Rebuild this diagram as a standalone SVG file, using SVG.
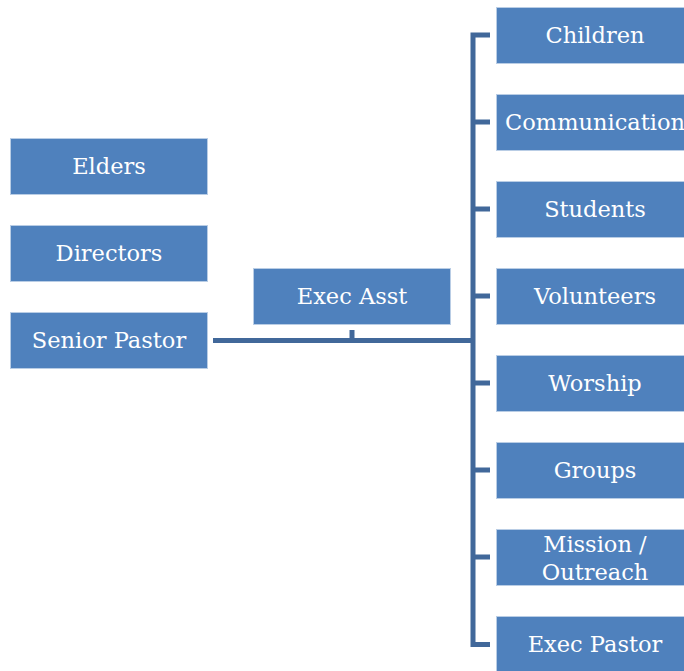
<svg xmlns="http://www.w3.org/2000/svg" width="684" height="671" viewBox="0 0 684 671">
<style>
.box{fill:#4F81BD;stroke:#B9CDE5;stroke-width:1}
.t{fill:#FFFFFF;font-family:"DejaVu Serif","Liberation Serif",serif;font-size:22.5px;text-anchor:middle;dominant-baseline:central}
.ln{stroke:#41689A;stroke-width:5;fill:none}
</style>
<rect width="684" height="671" fill="#FFFFFF"/>
<g id="connectors">
<path class="ln" d="M213,340.5 H473"/>
<path class="ln" d="M352,330 V340"/>
<path class="ln" d="M490,35 H473 V644.5 H490"/>
<path class="ln" d="M473,122 H490 M473,209 H490 M473,296 H490 M473,383 H490 M473,470 H490 M473,557 H490"/>
</g>
<g id="elders"><rect class="box" x="10.5" y="138.5" width="197" height="56"/><text class="t" x="109" y="166">Elders</text></g>
<g id="directors"><rect class="box" x="10.5" y="225.5" width="197" height="56"/><text class="t" x="109" y="253">Directors</text></g>
<g id="senior-pastor"><rect class="box" x="10.5" y="312.5" width="197" height="56"/><text class="t" x="109" y="340">Senior Pastor</text></g>
<g id="exec-asst"><rect class="box" x="253.5" y="268.5" width="197" height="56"/><text class="t" x="352" y="296">Exec Asst</text></g>
<g id="children"><rect class="box" x="496.5" y="7.5" width="198" height="56"/><text class="t" x="595" y="35">Children</text></g>
<g id="communication"><rect class="box" x="496.5" y="94.5" width="198" height="56"/><text class="t" x="595" y="122">Communication</text></g>
<g id="students"><rect class="box" x="496.5" y="181.5" width="198" height="56"/><text class="t" x="595" y="209">Students</text></g>
<g id="volunteers"><rect class="box" x="496.5" y="268.5" width="198" height="56"/><text class="t" x="595" y="296">Volunteers</text></g>
<g id="worship"><rect class="box" x="496.5" y="355.5" width="198" height="56"/><text class="t" x="595" y="383">Worship</text></g>
<g id="groups"><rect class="box" x="496.5" y="442.5" width="198" height="56"/><text class="t" x="595" y="470">Groups</text></g>
<g id="mission"><rect class="box" x="496.5" y="529.5" width="198" height="56"/><text class="t" x="595" y="544">Mission /</text><text class="t" x="595" y="572">Outreach</text></g>
<g id="exec-pastor"><rect class="box" x="496.5" y="616.5" width="198" height="56"/><text class="t" x="595" y="644">Exec Pastor</text></g>
</svg>
